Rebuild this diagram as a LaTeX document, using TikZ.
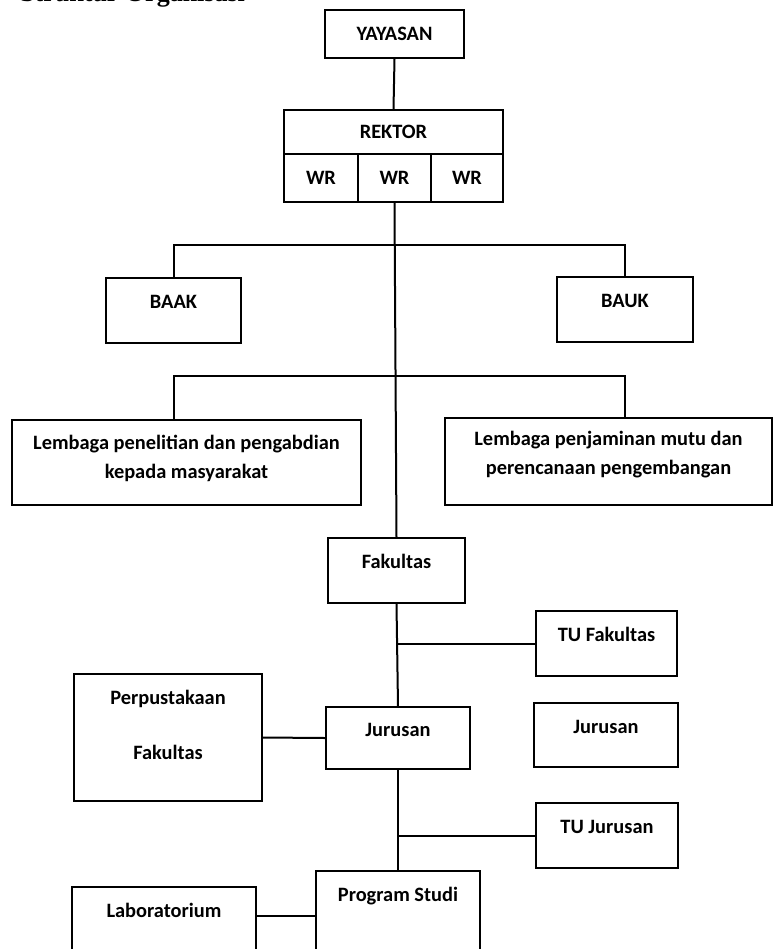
\documentclass[tikz,border=0pt]{standalone}
\usepackage{fontspec}
\setmainfont{Carlito}
\newfontfamily\titlefont{Liberation Serif}
\tikzset{
  orgbox/.style = {draw, line width=1pt, inner sep=0pt, align=center,
    font=\bfseries\fontsize{10.2}{12.3}\selectfont, text height=7pt, text depth=1pt},
  orgtop/.style = {orgbox, text depth=9pt},
  orgline/.style = {line width=1pt}
}
\begin{document}
\begin{tikzpicture}[x=0.5pt, y=-0.5pt]
      \useasboundingbox (0,0) rectangle (773,949);

      % cut title at the top
      \node[anchor=base east, font=\titlefont\bfseries\fontsize{13}{15}\selectfont] (judul) at (252,1) {Struktur Organisasi};

      % yayasan and rektor
      \node[orgbox, minimum width=69.5pt, minimum height=24pt] (yayasan) at (394.5,34) {YAYASAN};
      \node[orgbox, minimum width=109.5pt, minimum height=22pt] (rektor) at (393.5,132) {REKTOR};
      % wakil rektor
      \node[orgbox, minimum width=37pt, minimum height=24pt] (wra) at (321,178) {WR};
      \node[orgbox, minimum width=36.5pt, minimum height=24pt] (wrb) at (394.5,178) {WR};
      \node[orgbox, minimum width=36pt, minimum height=24pt] (wrc) at (467,178) {WR};

      % biro
      \node[orgtop, minimum width=67.5pt, minimum height=32.5pt] (baak) at (173.5,310.5) {BAAK};
      \node[orgtop, minimum width=68pt, minimum height=32.5pt] (bauk) at (625,309.5) {BAUK};

      % lembaga
      \node[orgbox, text height=, text depth=5.9pt, minimum width=174.5pt, minimum height=42.5pt] (lppm) at (186.5,462.5)
        {Lembaga penelitian dan pengabdian\\[2.2pt]kepada masyarakat};
      \node[orgbox, text height=, text depth=8.4pt, minimum width=163.5pt, minimum height=43.5pt] (lpmpp) at (608.5,461.5)
        {Lembaga penjaminan mutu dan\\[2.2pt]perencanaan pengembangan};

      % fakultas level
      \node[orgtop, minimum width=68.5pt, minimum height=32.5pt] (fak) at (396.5,570.5) {Fakultas};
      \node[orgtop, minimum width=70.5pt, minimum height=32.5pt] (tufak) at (606.5,643.5) {TU Fakultas};
      \node[orgbox, text height=, text depth=12.9pt, minimum width=94pt, minimum height=63.5pt] (perpus) at (168,737.5)
        {Perpustakaan\\[15.2pt]Fakultas};

      % jurusan level
      \node[orgtop, minimum width=72pt, minimum height=31pt] (jur) at (398,738) {Jurusan};
      \node[orgtop, minimum width=72pt, minimum height=32pt] (jurb) at (606,735) {Jurusan};
      \node[orgtop, minimum width=71pt, minimum height=32.5pt] (tujur) at (607,835.5) {TU Jurusan};

      % program studi level
      \node[orgtop, text depth=21.9pt, minimum width=82pt, minimum height=45pt] (prodi) at (398,916) {Program Studi};
      \node[orgtop, text depth=16.9pt, minimum width=92pt, minimum height=40pt] (lab) at (164,927) {Laboratorium};

      % branch points on the main line
      \coordinate (cab1) at (396,245);
      \coordinate (cab2) at (396,376);

      % yayasan to rektor
      \draw[orgline] (yayasan.south) -- (rektor.north);
      % main line down to fakultas
      \draw[orgline] (wrb.south) -- (fak.north);
      % biro branch
      \draw[orgline] (baak.north) |- (cab1) -| (bauk.north);
      % lembaga branch
      \draw[orgline] (lppm.north -| baak.north) |- (cab2) -| (lpmpp.north -| bauk.north);

      % fakultas to jurusan, with tu fakultas
      \draw[orgline] (fak.south) -- (jur.north);
      \draw[orgline] (tufak.west) -- (tufak.west -| fak.south);
      % perpustakaan
      \draw[orgline] (perpus.east) -- (jur.west);

      % jurusan to program studi, with tu jurusan
      \draw[orgline] (jur.south) -- (prodi.north);
      \draw[orgline] (tujur.west) -- (tujur.west -| jur.south);
      % laboratorium
      \draw[orgline] (prodi.west) -- (prodi.west -| lab.east);

\end{tikzpicture}
\end{document}
